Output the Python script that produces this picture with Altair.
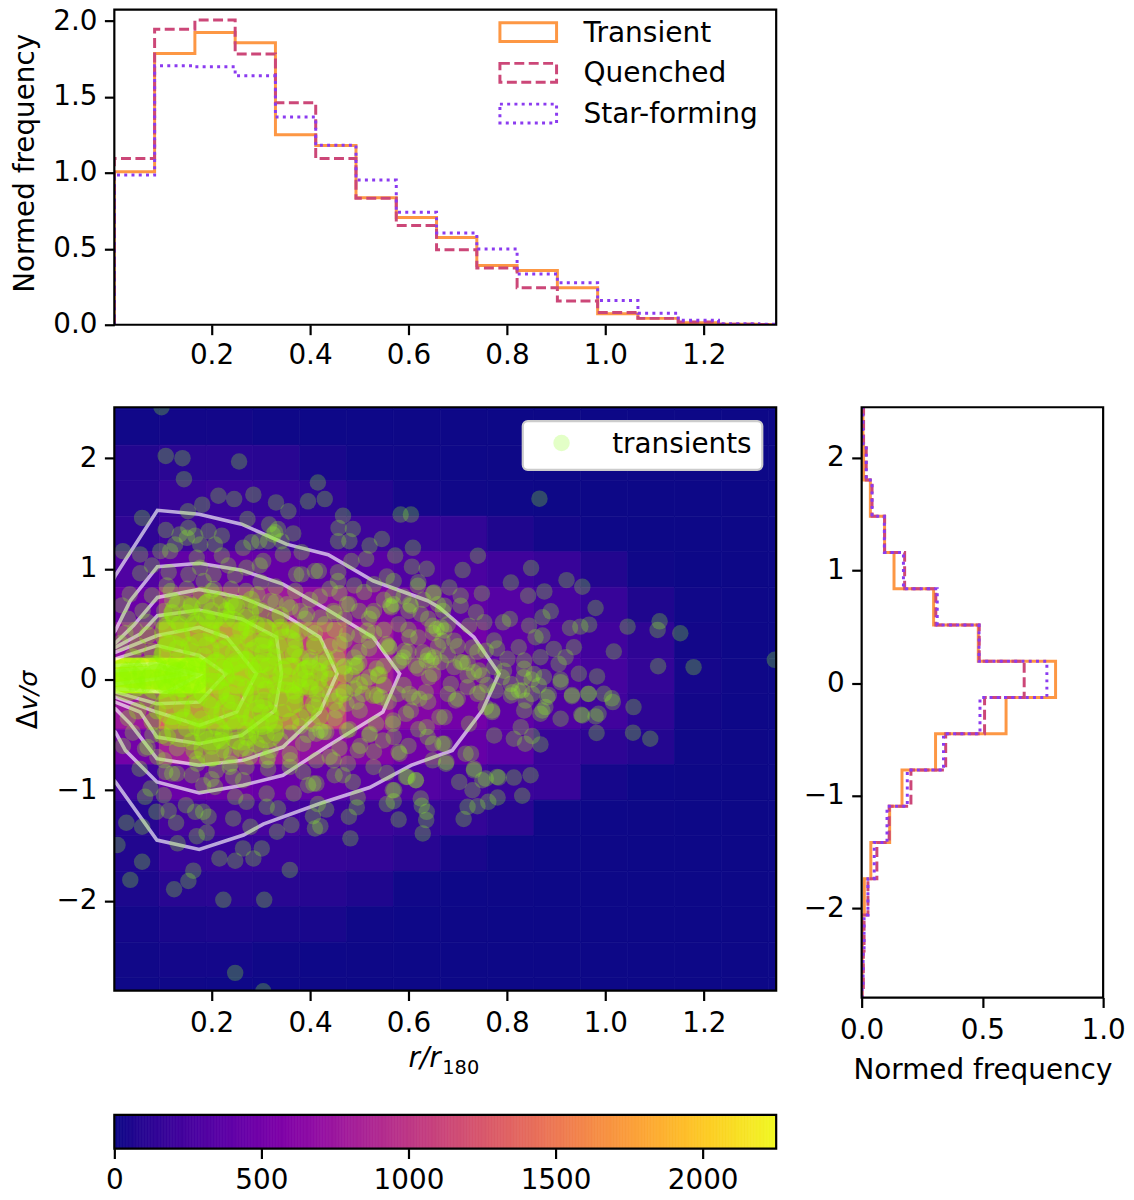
import altair as alt
import pandas as pd

FONT = "DejaVu Sans"
FS = 28

r_edges = [0.0026, 0.0844, 0.1662, 0.2480, 0.3298, 0.4116, 0.4934, 0.5752, 0.6570, 0.7388, 0.8206, 0.9024,
           0.9842, 1.0660, 1.1478, 1.2296, 1.3114, 1.3468]
top_transient = [1.007, 1.787, 1.925, 1.857, 1.252, 1.18, 0.837, 0.706, 0.575, 0.39, 0.357, 0.243, 0.073, 0.042, 0.014, 0.003, 0.002]
top_quenched = [1.095, 1.946, 2.007, 1.783, 1.462, 1.095, 0.833, 0.654, 0.494, 0.374, 0.243, 0.156, 0.08, 0.042, 0.018, 0.004, 0.002]
top_starforming = [0.986, 1.706, 1.70, 1.64, 1.368, 1.182, 0.953, 0.741, 0.604, 0.499, 0.335, 0.276, 0.16, 0.075, 0.03, 0.006, 0.003]

v_edges = [2.447, 2.125, 1.803, 1.482, 1.160, 0.838, 0.517, 0.195, -0.127, -0.448, -0.770, -1.092, -1.413, -1.735,
           -2.057, -2.378, -2.700, -2.79]
right_transient = [0.0055, 0.008, 0.036, 0.095, 0.134, 0.298, 0.483, 0.803, 0.598, 0.306, 0.167, 0.116, 0.038, 0.011, 0.003, 0.002, 0.001]
right_quenched = [0.008, 0.019, 0.043, 0.095, 0.178, 0.307, 0.487, 0.673, 0.509, 0.348, 0.204, 0.114, 0.063, 0.026, 0.01, 0.007, 0.002]
right_starforming = [0.005, 0.019, 0.043, 0.094, 0.173, 0.313, 0.486, 0.767, 0.49, 0.339, 0.189, 0.105, 0.052, 0.026, 0.01, 0.006, 0.002]

heat_x_edges = [-0.0014, 0.0937, 0.1889, 0.2840, 0.3791, 0.4743, 0.5694, 0.6646, 0.7597, 0.8548, 0.95, 1.0451, 1.1403, 1.2354, 1.3305, 1.4257]
heat_y_edges = [2.76, 2.438, 2.117, 1.796, 1.476, 1.155, 0.834, 0.514, 0.193, -0.128, -0.449, -0.769, -1.09, -1.411, -1.732, -2.052, -2.373, -2.694, -3.014]
heat_counts = [
    [5, 5, 5, 2, 0, 0, 0, 0, 0, 0, 0, 0, 0, 0, 0],
    [15, 20, 20, 8, 5, 5, 3, 2, 0, 0, 0, 0, 0, 0, 0],
    [70, 110, 110, 100, 40, 15, 10, 5, 3, 0, 0, 0, 0, 0, 0],
    [90, 170, 190, 170, 130, 70, 30, 15, 8, 3, 0, 0, 0, 0, 0],
    [130, 210, 230, 240, 220, 200, 170, 140, 60, 25, 5, 0, 0, 0, 0],
    [300, 400, 430, 420, 390, 350, 300, 270, 210, 170, 70, 10, 0, 0, 0],
    [450, 780, 800, 760, 680, 580, 480, 400, 330, 250, 170, 60, 15, 5, 0],
    [700, 1300, 1350, 1200, 1050, 750, 600, 500, 380, 300, 220, 130, 20, 5, 0],
    [2200, 2250, 1500, 1350, 1150, 800, 650, 520, 400, 310, 240, 150, 30, 8, 0],
    [750, 1300, 1350, 1200, 1050, 750, 600, 500, 380, 300, 220, 120, 20, 5, 0],
    [500, 800, 820, 760, 680, 580, 480, 420, 350, 170, 120, 80, 10, 3, 0],
    [220, 450, 470, 440, 410, 370, 320, 250, 190, 170, 30, 5, 3, 0, 0],
    [100, 240, 260, 250, 210, 190, 160, 150, 100, 10, 5, 2, 0, 0, 0],
    [70, 170, 180, 170, 150, 140, 100, 40, 10, 5, 2, 0, 0, 0, 0],
    [50, 100, 110, 100, 90, 60, 15, 5, 2, 0, 0, 0, 0, 0, 0],
    [25, 45, 50, 45, 40, 10, 5, 2, 0, 0, 0, 0, 0, 0, 0],
    [12, 25, 25, 10, 5, 3, 0, 0, 0, 0, 0, 0, 0, 0, 0],
    [8, 10, 8, 5, 3, 0, 0, 0, 0, 0, 0, 0, 0, 0, 0],
]

contours = [
    [(-.02,.72),(.0047,.94),(.09,1.529),(.175,1.493),(.261,1.403),(.352,1.223),(.437,1.127),(.528,.892),(.639,.712),(.6625,.652),(.733,.382),(.784,.052),
     (.7502,-.279),(.689,-.64),(.605,-.775),(.521,-.976),(.42,-1.12),(.305,-1.306),(.265,-1.405),(.175,-1.535),(.089,-1.45),(.0047,-.925),(-.02,-.8)],
    [(-.02,.3),(.0047,.442),(.035,.712),(.09,1.02),(.175,1.05),(.261,.988),(.345,.862),(.433,.637),(.528,.382),(.582,.052),(.548,-.294),(.433,-.61),
     (.345,-.865),(.264,-.955),(.175,-1.024),(.089,-.925),(.025,-.64),(.0047,-.474),(-.02,-.4)],
    [(-.02,.28),(.0047,.33),(.042,.49),(.09,.742),(.175,.814),(.261,.742),(.345,.592),(.42,.382),(.455,.052),(.42,-.294),(.345,-.61),(.264,-.73),
     (.175,-.775),(.089,-.715),(.035,-.4),(.0047,-.264),(-.02,-.22)],
    [(-.02,.25),(.0047,.29),(.055,.41),(.09,.577),(.175,.628),(.261,.547),(.332,.382),(.342,.052),(.329,-.279),(.261,-.505),(.175,-.58),(.089,-.52),
     (.055,-.294),(.0047,-.204),(-.02,-.18)],
    [(-.02,.22),(.0047,.247),(.09,.397),(.175,.472),(.231,.382),(.291,.052),(.251,-.294),(.175,-.414),(.089,-.294),(.0047,-.159),(-.02,-.14)],
    [(-.02,.17),(.0047,.187),(.09,.307),(.175,.217),(.229,.052),(.175,-.204),(.089,-.219),(.0047,-.114),(-.02,-.1)],
    [(-.02,.12),(.0047,.127),(.09,.142),(.175,.04),(.109,-.114),(.0047,-.084),(-.02,-.08)],
    [(-.02,.08),(.0047,.08),(.09,.11),(.15,.05),(.09,.007),(.0047,-.04),(-.02,-.04)],
]

transient_points = [
 (.0985,2.46),(.107,2.02),(.141,2.0),(.256,1.97),(.144,1.81),(.416,1.78),(.214,1.66),(.246,1.63),(.285,1.67),(.181,1.58),(.331,1.6),(.396,1.61),(.43,1.63),
 (.356,1.52),(.152,1.52),(.059,1.46),(.467,1.48),(.584,1.49),(.605,1.49),(.273,1.45),(.458,1.37),(.487,1.36),(.317,1.4),(.366,1.32),(.335,1.36),(.325,1.31),
 (.546,1.27),(.609,1.19),(.573,1.12),(.607,1.02),(.637,1.0),(.02,1.16),(.055,1.13),
 (.107,1.35),(.135,1.31),(.153,1.37),(.167,1.3),(.194,1.34),(.221,1.3),(.207,1.22),(.177,1.22),(.15,1.28),(.096,1.16),(.116,1.16),(.126,1.22),(.264,1.19),
 (.281,1.24),(.297,1.25),(.329,1.33),(.315,1.25),(.342,1.25),(.345,1.13),(.383,1.15),(.079,1.03),(.055,.96),(.034,.77),(.018,.67),(.079,.76),(.109,.85),
 (.113,.97),(.17,1.1),(.221,1.12),(.234,1.03),(.177,1.01),(.153,.95),(.184,.89),(.204,.95),(.248,.94),(.271,1.01),(.298,1.03),(.305,1.07),(.372,.95),
 (.383,.95),(.41,.98),(.418,.98),(.457,.97),(.457,.89),(.484,1.07),(.514,1.09),(.521,1.21),(.48,1.25),(.457,1.25),(.556,.93),(.57,.89),(.53,.86),(.51,.79),
 (.49,.85),(.46,.78),(.44,.82),(.42,.75),(.4,.72),(.37,.8),(.33,.84),(.3,.88),(.27,.8),(.24,.82),(.2,.8),(.15,.82),(.12,.72),(.06,.62),(.03,.55),(.045,.45),
 (.62,.88),(.59,.75),(.6,.62),(.57,.68),(.55,.72),(.53,.62),(.52,.55),(.5,.62),(.48,.68),(.47,.55),(.45,.6),(.63,.72),(.65,.78),(.66,.68),(.64,.55),(.67,.62),
 (.6,.45),(.58,.5),(.55,.45),(.62,.38),(.65,.42),(.68,.5),(.53,.42),(.5,.4),(.52,.28),(.56,.3),(.6,.25),(.64,.22),(.66,.3),(.68,.22),(.58,.15),(.62,.1),(.65,.05),(.55,.12),
 (.866,1.634),(.741,1.118),(.71,.989),(.849,1.007),(.808,.877),(.921,.898),(.953,.838),(.843,.757),(.876,.796),(.749,.778),(.98,.646),(.889,.616),(.872,.562),
 (.806,.547),(.792,.517),(.723,.487),(.967,.496),(.949,.478),(.928,.466),(1.045,.478),(1.11,.526),(1.106,.448),(1.152,.418),(.845,.487),(.872,.397),(.858,.382),
 (.936,.292),(.824,.292),(1.017,.253),(1.107,.121),(1.179,.112),(1.344,.178),(.801,.187),(.835,.172),(.868,.202),(.895,.277),(.919,.202),(.905,.142),(.946,.052),
 (.983,.028),(.909,0.0),(.875,.022),(.835,.097),(.774,.112),(.754,.517),(.774,.352),(.737,.607),(.706,.757),(.683,.832),(.673,.442),(.706,.157),(.693,.112),(.72,.15),
 (.743,.082),(.686,-.04),(.72,.036),(.808,-.04),(.851,-.13),(.885,-.14),(.932,-.14),(.966,-.13),(1.013,-.17),(.76,-.05),(.79,.02),(.85,.0),(.7,.3),(.74,.25),(.78,.28),
 (.696,-.189),(.74,-.129),(.77,-.294),(.723,-.4),(.774,-.505),(.814,-.535),(.837,-.58),(.868,-.586),(.851,-.51),(.828,-.43),(.835,-.279),(.808,-.144),(.831,-.099),
 (.868,-.309),(.878,-.249),(.909,-.354),(.951,-.318),(.98,-.333),(.986,-.309),(.982,-.483),(1.057,-.249),(1.056,-.48),(1.091,-.535),(1.015,-.204),(.965,-.129),
 (.932,-.15),(.997,-.129),(.882,-.16),(.909,-.024),(.677,-.745),(.703,-.925),(.727,-.67),(.733,-.82),(.757,-.895),(.783,-.886),(.814,-.886),(.848,-.865),(.73,-1.0),
 (.831,-1.05),(.781,-1.066),(.762,-1.105),(.74,-1.144),(.72,-1.15),(.712,-1.26),(.673,-.58),
 (.009,-1.495),(.059,-1.646),(.035,-1.81),(.248,-2.65),(.305,-2.816),(.224,-1.99),(.307,-1.99),(.124,-1.895),(.153,-1.82),(.163,-1.727),(.359,-1.72),(.131,-1.48),
 (.216,-1.616),(.248,-1.637),(.264,-1.526),(.285,-1.616),(.302,-1.526),(.027,-1.294),(.059,-1.33),(.088,-1.195),(.113,-1.186),(.128,-1.294),(.148,-1.135),(.167,-1.195),
 (.183,-1.195),(.194,-1.24),(.17,-1.415),(.19,-1.385),(.103,-1.045),(.065,-1.06),(.076,-.985),(.244,-1.255),(.248,-1.06),(.271,-1.105),(.279,-1.33),(.312,-1.15),
 (.335,-1.165),(.333,-1.375),(.362,-1.315),(.41,-1.345),(.421,-1.325),(.406,-1.235),(.433,-1.175),(.416,-1.125),(.479,-1.24),(.495,-1.155),(.497,-1.066),(.482,-1.435),
 (.58,-1.265),(.556,-1.125),(.57,-1.1),(.571,-1.0),(.629,-1.39),(.636,-1.27),(.637,-1.195),(.627,-1.14),(.615,-.91),(.598,-.88),(.556,-.844),(.487,-.925),(.467,-.865),
 (.45,-.865),(.396,-.955),(.413,-.94),(.367,-1.03),(.312,-1.03),(.264,-.91),(.244,-.88),(.207,-.97),(.183,-.955),(.16,-.865),(.13,-.85),(.106,-.835),(.054,-.805),
 (.065,-.625),(.497,-.64),(.477,-.76),(.413,-.73),(.386,-.835),(.359,-.79),(.315,-.805),(.271,-.79),(.237,-.79),(.21,-.82),(.582,-.67),(.676,-.76),(.649,-.73),(.639,-.52),
 (.669,-.58),(.548,-.55),(.568,-.4),(.595,-.31),(.622,-.174),(.602,-.13),(.663,-.34),(.68,-.13),(.534,-.4),(.501,-.28),(.474,-.22),(.507,-.13),(.413,-.49),(.433,-.475),
 (.386,-.58),(.359,-.67),(.315,-.7),(.278,-.7),(.56,-.2),(.59,-.05),(.55,-.05),(.52,.02),(.49,-.08),(.46,-.15),(.45,-.35),(.48,-.45),(.53,-.65),(.46,-.62),(.44,-.7),
 (.6,-.6),(.62,-.45),(.57,-.52),(.52,-.5),(.64,-.2),(.43,.05),(.47,.12),(.49,.2),(.44,.3),(.41,.42),(.39,.55),(.36,.65),(.33,.7),(.43,.5),(.47,.35),(.5,.15),
 (.02,-.6),(.04,-.48),(.025,.42),(.015,.33),(.03,-.35),(.12,-.85),(.09,-.7),(.2,-.9),(.17,-.72),(.24,-.68),(.3,-.62),(.34,-.55),(.38,-.42),(.41,-.25),(.4,.2),(.37,.35),
 (.619,.847),(.652,.787),(.673,.667),(.706,.667),(.666,.472),(.649,.486),(.625,.592),(.605,.667),(.565,.652),(.568,.757),
 (.602,.381),(.629,.246),(.646,.171),(.666,.156),(.693,.351),(.71,.156),(.733,.066),(.747,-.114),(.72,-.069),(.7,-.174),(.673,-.34),(.635,-.114),
 (.605,-.28),(.578,-.13),(.544,-.16),(.592,.26),(.615,.126),(.642,.02),(.652,.2),(.669,.35),(.585,.17),(.561,.29),(.75,.036),(.77,-.28),(.757,-.25),(.777,-.1),(.794,.08),
 (.757,.26),(.73,.29),(.824,-.1),(.834,.02),(.811,-.114),(.838,-.19),(.872,-.28),(.865,-.054),(.855,.05),(.953,-.325),
 (.78,-.88),(.75,-.91),(.733,-.805),(.716,-.67),(.615,-.91),(.595,-.88),(.568,-1.0),(.625,-1.075),
 (.526,.59),(.563,.667),(.603,.68),(.657,.456),(.556,.32),(.59,.2),(.637,.17),(.61,-.16),(.536,-.144),(.539,.036),(.485,.036),(.495,.126),(.468,-.1),(.428,-.475),(.414,-.13),
 (.434,.17),(.4,.17),(.516,.44),(.475,.41),(.461,.32),(.448,.62),(.475,.68),(.421,.56),(.394,.59),(.367,.44),(.32,.71),(.353,.68),(.293,.77),(.239,.695),(.205,.817),(.158,.68),
 (.104,.62),(.117,.8),(.569,-.37),(.637,-.43),(.65,-.58),(.522,-.49),(.475,-.46),(.448,-.73),(.36,-.73),(.313,-.73),(.239,-.76),(.32,-.64),(.225,-.64),(.171,-.76),
 (.07,-.61),(.104,-.73),(.502,-.6),(.529,-.79),(.58,-.655),(.407,-.94),
 (.468,.11),(.441,-.13),(.421,-.46),(.51,-.02),(.495,-.2),(.535,.1),(.455,.2),(.455,-.28),
 (.5,.25),(.52,.35),(.42,.15),(.405,-.4),(.395,-.5),(.36,-.48),(.4,.45),(.45,.45),(.38,.62),(.29,.66),(.13,.7),(.19,.7),(.1,.52),(.07,.52),(.08,-.5),(.13,-.62),(.2,-.72),(.27,-.62),
]

core_points = [
 (.015,.1),(.03,.03),(.05,.12),(.06,-.05),(.08,.08),(.1,-.04),(.12,.1),(.13,.0),(.15,.12),(.16,-.06),(.02,-.06),(.09,.14),(.17,.04),(.04,-.02),(.11,.05),(.07,.02),(.14,-.08),(.018,.02),
 (.03,.08),(.06,.06),(.09,-.01),(.12,.03),(.15,.03),(.165,.1),(.05,-.07),(.11,-.08),
 (.11,.46),(.14,.38),(.17,.5),(.2,.42),(.23,.55),(.26,.44),(.29,.5),(.13,.28),(.16,.25),(.19,.31),(.22,.27),(.25,.33),(.28,.26),(.31,.36),(.34,.44),(.37,.28),(.1,.22),(.13,.17),
 (.17,.14),(.21,.17),(.24,.12),(.27,.18),(.3,.14),(.33,.2),(.36,.12),(.39,.09),(.2,.05),(.23,.02),(.26,.06),(.29,-.02),(.32,.04),(.35,-.04),(.38,-.07),(.19,-.06),(.22,-.1),(.25,-.05),
 (.28,-.13),(.31,-.09),(.34,-.16),(.37,-.22),(.11,-.19),(.14,-.26),(.17,-.18),(.2,-.24),(.23,-.2),(.26,-.27),(.29,-.22),(.32,-.31),(.12,-.38),(.15,-.44),(.18,-.36),(.21,-.42),(.24,-.37),
 (.27,-.46),(.3,-.4),(.1,-.5),(.16,-.56),(.2,-.6),(.25,-.55),(.29,-.58),(.33,-.48),(.36,-.38),(.34,.58),(.3,.62),(.12,.6),(.16,.66),(.2,.62),(.25,.66),(.05,.3),(.07,.4),(.04,.2),(.07,-.18),
 (.05,-.28),(.08,-.38),(.4,-.08),(.42,-.2),(.38,.2),(.41,.3),(.36,.45),(.22,.72),(.18,.76),(.28,.72),
 (.245,.68),(.205,.53),(.272,.47),(.34,.47),(.377,.43),(.306,.35),(.367,.23),(.171,-.43),(.225,-.49),(.273,-.52),(.327,-.4),(.306,-.19),(.367,-.1),(.408,-.22),(.38,-.34),
 (.165,-.64),(.11,-.52),
 (.135,.5),(.155,.31),(.185,.21),(.215,.36),(.245,.24),(.275,.37),(.305,.24),(.335,.31),(.125,.08),(.195,.12),(.225,.1),(.255,.15),(.285,.08),(.315,.12),(.345,.09),(.21,-.02),(.24,-.14),
 (.27,-.07),(.3,.0),(.33,-.05),(.355,.03),(.15,-.15),(.18,-.12),(.21,-.32),(.24,-.28),(.27,-.34),(.3,-.3),(.13,-.12),(.145,-.34),(.185,-.5),(.22,-.55),(.26,-.62),(.31,-.5),(.345,-.3),
 (.39,.01),(.4,.12),(.37,-.14),(.395,-.3),(.42,.07),(.11,.33),(.08,.25),(.15,.6),(.19,.56),(.23,.62),(.27,.56),(.31,.47),(.33,.55),(.09,-.28),
 (.44,.0),(.47,.05),(.5,-.05),(.45,-.2),(.43,.2),(.47,-.12),(.49,.12),(.42,-.33),(.41,.33),(.54,.04),(.53,-.14),(.44,.1),(.4,-.02),(.42,-.08),
]

wash_points = [
 (.03,.04),(.075,.06),(.12,.03),(.16,.04),(.03,-.03),(.09,-.02),(.14,.0),
 (.12,.42),(.18,.46),(.24,.46),(.3,.4),(.12,.24),(.18,.26),(.24,.22),(.3,.22),(.35,.3),
 (.21,.07),(.26,.1),(.31,.08),(.36,.04),(.2,-.1),(.25,-.12),(.3,-.14),(.35,-.18),(.4,.02),
 (.12,-.25),(.18,-.28),(.24,-.3),(.3,-.34),(.14,-.45),(.2,-.48),(.26,-.48),(.31,-.46),(.2,.62),(.26,.6),(.14,.6),(.2,-.62),
]

T, Q, S = "#fd9744", "#cc4778", "#8b3bf0"
cm = alt.Scale(scheme="plasma", domain=[0, 2250])


def steps(edges, values):
    rows = [{"a": edges[0], "b": 0.0, "o": 0}]
    for i, v in enumerate(values):
        rows.append({"a": edges[i], "b": v, "o": 2 * i + 1})
        rows.append({"a": edges[i + 1], "b": v, "o": 2 * i + 2})
    return pd.DataFrame(rows)


one = alt.Data(values=[{"k": 0}])
axis_common = dict(labelFont=FONT, labelFontSize=FS, tickSize=10, tickWidth=2.2, tickColor="black", domain=False, grid=False,
                   labelColor="black", titleFont=FONT, titleFontSize=FS, titleFontWeight="normal", titleColor="black",
                   labelFlush=False, labelOverlap=False, labelBound=False)


def frame(w, h, y0=0):
    return alt.Chart(one).mark_rect(fillOpacity=0, stroke="black", strokeWidth=2.2).encode(
        x=alt.value(0), x2=alt.value(w), y=alt.value(y0), y2=alt.value(y0 + h))


def txt(s, x, y, **kw):
    return alt.Chart(one).mark_text(text=s, font=FONT, fontSize=kw.pop("fontSize", FS), color="black", **kw).encode(
        x=alt.value(x), y=alt.value(y))


x_dom = alt.Scale(domain=[0.0026, 1.3468], nice=False, zero=False)
x_ticks = [0.2, 0.4, 0.6, 0.8, 1.0, 1.2]

# ---------- top histogram
top_w, top_h = 666, 317
top_y = alt.Scale(domain=[0, 2.075], nice=False)
top_layers = []
for vals, col, dash in [(top_transient, T, None), (top_quenched, Q, [10, 4.5]), (top_starforming, S, [3, 4.3])]:
    kw = dict(color=col, strokeWidth=3, clip=True)
    if dash:
        kw["strokeDash"] = dash
    top_layers.append(alt.Chart(steps(r_edges, vals)).mark_line(**kw).encode(
        x=alt.X("a:Q", scale=x_dom, axis=alt.Axis(values=x_ticks, format=".1f", title=None, labelPadding=7.5, **axis_common)),
        y=alt.Y("b:Q", scale=top_y, axis=alt.Axis(values=[0, .5, 1, 1.5, 2], format=".1f", title="Normed frequency",
                                                  labelPadding=7.5, titlePadding=13, titleY=154, **axis_common)),
        order="o:Q"))
for (y0, y1, col, dash, label, yt) in [(13, 32, T, None, "Transient", 24), (54, 73, Q, [10, 4.5], "Quenched", 65), (95, 114, S, [3, 4.3], "Star-forming", 106)]:
    kw = dict(fillOpacity=0, stroke=col, strokeWidth=3)
    if dash:
        kw["strokeDash"] = dash
    top_layers.append(alt.Chart(one).mark_rect(**kw).encode(x=alt.value(388), x2=alt.value(445), y=alt.value(y0), y2=alt.value(y1)))
    top_layers.append(txt(label, 472, yt, align="left", baseline="middle", fontSize=28.2))
top_layers.append(frame(top_w, top_h))
top = alt.layer(*top_layers).properties(width=top_w, height=top_h)

# ---------- main panel
main_w, main_h = 666, 587
main_x = alt.X("x:Q", scale=x_dom, axis=alt.Axis(values=x_ticks, format=".1f", title=None, labelPadding=9, **axis_common))
main_y = alt.Y("y:Q", scale=alt.Scale(domain=[-2.81, 2.46], nice=False, zero=False),
               axis=alt.Axis(values=[-2, -1, 0, 1, 2], format="d", title=None, labelPadding=7.5, **axis_common))
heat_rows = []
for j, row in enumerate(heat_counts):
    for i, c in enumerate(row):
        heat_rows.append({"x": heat_x_edges[i], "x2": heat_x_edges[i + 1], "y": heat_y_edges[j], "y2": heat_y_edges[j + 1], "c": c})
heat = alt.Chart(pd.DataFrame(heat_rows)).mark_rect(clip=True, strokeWidth=0.7).encode(
    x=main_x, x2="x2:Q", y=main_y, y2="y2:Q", color=alt.Color("c:Q", scale=cm, legend=None),
    stroke=alt.Color("c:Q", scale=cm, legend=None))
cont_rows = []
for n, line in enumerate(contours):
    for o, (a, b) in enumerate(line):
        cont_rows.append({"x": a, "y": b, "n": n, "o": o})
cont = alt.Chart(pd.DataFrame(cont_rows)).mark_line(color="white", opacity=0.65, strokeWidth=3.6, clip=True).encode(
    x=main_x, y=main_y, detail="n:N", order="o:Q")
pts = alt.Chart(pd.DataFrame(transient_points, columns=["x", "y"])).mark_circle(
    color="#90ff20", opacity=0.27, size=275, clip=True).encode(x=main_x, y=main_y)
wash = alt.Chart(pd.DataFrame(wash_points, columns=["x", "y"])).mark_circle(
    color="#8ff800", opacity=0.4, size=1300, clip=True).encode(x=main_x, y=main_y)
core = alt.Chart(pd.DataFrame(core_points, columns=["x", "y"])).mark_circle(
    color="#8ff800", opacity=0.32, size=330, clip=True).encode(x=main_x, y=main_y)
leg_box = alt.Chart(one).mark_rect(fill="white", stroke="#cccccc", strokeWidth=2.2, cornerRadius=5).encode(
    x=alt.value(411), x2=alt.value(652), y=alt.value(14), y2=alt.value(63))
leg_pt = alt.Chart(one).mark_circle(color="#90ff20", opacity=0.25, size=275).encode(x=alt.value(450), y=alt.value(36))
leg_tx = txt("transients", 501, 38, align="left", baseline="middle")
xt1 = txt("r/r", 296, 664, align="left", baseline="alphabetic", fontStyle="italic")
xt2 = txt("180", 330, 671, align="left", baseline="alphabetic", fontSize=19.5)
yt1 = txt("Δ", -78, 324, align="left", baseline="alphabetic", angle=270)
yt2 = txt("v/σ", -78, 305, align="left", baseline="alphabetic", angle=270, fontStyle="italic", fontSize=25.5)
main = alt.layer(heat, cont, pts, wash, core, leg_box, leg_pt, leg_tx, frame(main_w, main_h), xt1, xt2, yt1, yt2).properties(width=main_w, height=main_h)

# ---------- right histogram
right_w, right_h = 243, 594
right_layers = []
for vals, col, dash in [(right_transient, T, None), (right_quenched, Q, [10, 4.5]), (right_starforming, S, [3, 4.3])]:
    kw = dict(color=col, strokeWidth=3, clip=True)
    if dash:
        kw["strokeDash"] = dash
    right_layers.append(alt.Chart(steps(v_edges, vals)).mark_line(**kw).encode(
        x=alt.X("b:Q", scale=alt.Scale(domain=[0, 1], nice=False),
                axis=alt.Axis(values=[0, .5, 1], format=".1f", title="Normed frequency", labelPadding=9.5, titlePadding=12, **axis_common)),
        y=alt.Y("a:Q", scale=alt.Scale(domain=[-2.79, 2.45], nice=False, zero=False),
                axis=alt.Axis(values=[-2, -1, 0, 1, 2], format="d", title=None, labelPadding=7.5, **axis_common)),
        order="o:Q"))
right_layers.append(frame(right_w, right_h))
right = alt.layer(*right_layers).properties(width=right_w, height=right_h)

# ---------- colour bar
bar_vals = list(range(0, 2250, 5))
bar_df = pd.DataFrame({"v": bar_vals, "v2": [b + 5 for b in bar_vals]})
bar = alt.layer(
    alt.Chart(bar_df).mark_rect(strokeWidth=0.8).encode(
        x=alt.X("v:Q", scale=alt.Scale(domain=[0, 2250], nice=False),
                axis=alt.Axis(values=[0, 500, 1000, 1500, 2000], format="d", title=None, labelPadding=8.5, **axis_common)),
        x2="v2:Q",
        color=alt.Color("v:Q", scale=cm, legend=None),
        stroke=alt.Color("v:Q", scale=cm, legend=None)),
    frame(666, 34),
).properties(width=666, height=34)

row = alt.hconcat(main, right, spacing=86, bounds="flush")
upper = alt.vconcat(top, row, spacing=83, bounds="flush")
chart = alt.vconcat(upper, bar, spacing=1112, bounds="flush").properties(
    padding={"left": 3, "top": -5, "right": 0, "bottom": 0}
).configure_view(stroke=None).resolve_scale(color="independent")

chart.save("out.html", embed_options={"renderer": "svg", "actions": False})
